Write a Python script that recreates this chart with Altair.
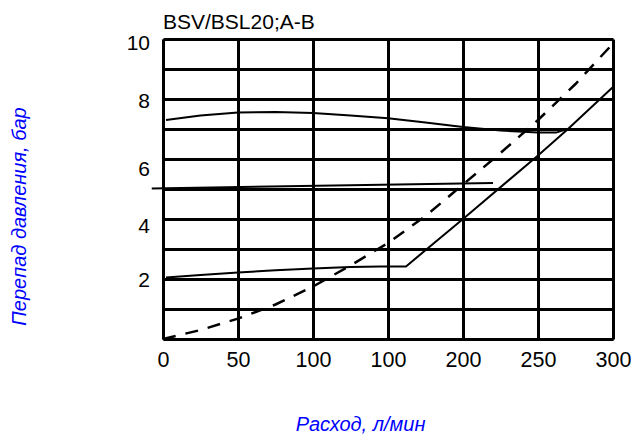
import altair as alt
import pandas as pd

# ---- data ----
x_ticks = [0, 50, 100, 150, 200, 250, 300]
x_tick_labels = ["0", "50", "100", "100", "200", "250", "300"]
y_grid = [0, 1, 2, 3, 4, 5, 6, 7, 8, 9, 10]
y_label_text = ["10", "8", "6", "4", "2"]
y_label_pos = [9.85, 7.9, 5.65, 3.75, 1.95]

upper_x = [2, 25, 50, 75, 100, 125, 150, 175, 200, 225, 250, 262, 268]
upper_y = [7.3, 7.45, 7.55, 7.57, 7.53, 7.45, 7.36, 7.22, 7.07, 6.95, 6.88, 6.88, 6.97]

mid_x = [-7.5, 220]
mid_y = [5.02, 5.2]

low_x = [2, 25, 50, 75, 100, 125, 145, 162, 200, 250, 270, 300]
low_y = [2.05, 2.13, 2.22, 2.29, 2.35, 2.4, 2.42, 2.42, 4.0, 6.12, 7.0, 8.4]

dash_x = [0, 25, 50, 75, 100, 125, 150, 175, 200, 225, 250, 275, 300]
dash_y = [0, 0.3, 0.68, 1.15, 1.75, 2.45, 3.2, 4.1, 5.15, 6.2, 7.3, 8.5, 9.85]

FONT = "Liberation Sans"
BLUE = "#0000FF"

def frame(xs, ys, name):
    return pd.DataFrame({"q": xs, "p": ys, "s": name, "i": list(range(len(xs)))})

lines_df = pd.concat([
    frame(upper_x, upper_y, "upper"),
    frame(mid_x, mid_y, "mid"),
    frame(low_x, low_y, "low"),
])
dash_df = frame(dash_x, dash_y, "dash")
ylab_df = pd.DataFrame({"t": y_label_text, "p": y_label_pos})

label_expr = "{}[indexof({}, datum.value)]".format(
    "[" + ",".join('"%s"' % s for s in x_tick_labels) + "]",
    "[" + ",".join(str(v) for v in x_ticks) + "]",
)

x_enc = alt.X(
    "q:Q",
    scale=alt.Scale(domain=[0, 300], nice=False, zero=False),
    axis=alt.Axis(
        values=x_ticks,
        labelExpr=label_expr,
        labelFlush=False, labelOverlap=False,
        grid=True, gridColor="black", gridWidth=3, gridOpacity=1,
        domain=True, domainColor="black", domainWidth=2,
        ticks=False,
        labelFont=FONT, labelFontSize=21.5, labelColor="black", labelPadding=10,
        title="Расход, л/мин",
        titleFont=FONT, titleFontSize=20, titleFontStyle="italic",
        titleFontWeight="normal", titleColor=BLUE,
        titleX=197, titleY=85, titleBaseline="middle", titleAlign="center",
    ),
)
y_enc = alt.Y(
    "p:Q",
    scale=alt.Scale(domain=[0, 10], nice=False, zero=False),
    axis=alt.Axis(
        values=y_grid,
        labels=False, ticks=False,
        grid=True, gridColor="black", gridWidth=3, gridOpacity=1,
        domain=True, domainColor="black", domainWidth=2,
        title="Перепад давления, бар",
        titleFont=FONT, titleFontSize=20, titleFontStyle="italic",
        titleFontWeight="normal", titleColor=BLUE,
        titleX=-144, titleY=177, titleAngle=270,
        titleBaseline="middle", titleAlign="center",
    ),
)

solid = alt.Chart(lines_df).mark_line(color="black", strokeWidth=2).encode(
    x=x_enc, y=y_enc, detail="s:N", order="i:Q"
)
dashed = alt.Chart(dash_df).mark_line(
    color="black", strokeWidth=2.5, strokeDash=[13, 10]
).encode(x=x_enc, y=y_enc, order="i:Q")

ylabels = alt.Chart(ylab_df).mark_text(
    align="right", baseline="middle", font=FONT, fontSize=21, color="black", dx=-13
).encode(x=alt.value(0), y=y_enc, text="t:N")

chart = alt.layer(solid, dashed, ylabels).properties(
    width=450,
    height=300,
    autosize=alt.AutoSizeParams(type="none"),
    padding={"left": 155, "top": 31, "right": 18, "bottom": 97},
    title=alt.TitleParams(
        "BSV/BSL20;A-B", anchor="start", frame="group", font=FONT, fontSize=21,
        fontWeight="normal", color="black", offset=0,
    ),
).configure_view(stroke=None).configure(background="white")

chart.save("out.html", embed_options={"renderer": "svg", "actions": False})
